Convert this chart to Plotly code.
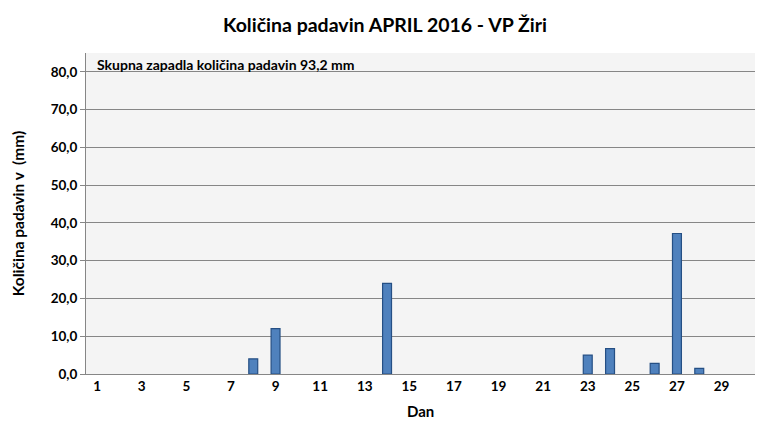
import plotly.graph_objects as go

days = list(range(1, 31))
rain = [0, 0, 0, 0, 0, 0, 0, 4.0, 12.0, 0, 0, 0, 0, 24.0, 0, 0, 0, 0, 0, 0,
        0, 0, 5.0, 6.7, 0, 2.8, 37.2, 1.5, 0, 0]
tick_days = list(range(1, 30, 2))
y_ticks = [0, 10, 20, 30, 40, 50, 60, 70, 80]
y_labels = [f"{v:.1f}".replace(".", ",") for v in y_ticks]

title = "Količina padavin APRIL 2016 - VP Žiri"
note = "Skupna zapadla količina padavin 93,2 mm"
x_title = "Dan"
y_title = "Količina padavin v  (mm)"

font = "Lato, 'Open Sans', sans-serif"

fig = go.Figure()
fig.add_trace(go.Bar(
    x=days, y=[v if v > 0 else None for v in rain],
    marker=dict(color="#4f81bd", line=dict(color="#254f84", width=1.2)),
    width=0.4,
))

fig.update_layout(
    width=770, height=439,
    margin=dict(l=78, r=23, t=45, b=73),
    paper_bgcolor="white",
    plot_bgcolor="#f4f4f4",
    showlegend=False,
    font=dict(family=font, color="black"),
    title=dict(text=f"<b>{title}</b>", x=0.4896, xanchor="center", yref="container",
               y=0.96, yanchor="middle",
               font=dict(size=19.5, family=font, color="black")),
)

fig.update_xaxes(
    range=[0.5, 30.5], automargin=False,
    tickmode="array", tickvals=tick_days, ticktext=[f"<b>{d}</b>" for d in tick_days],
    tickfont=dict(size=13.5),
    showgrid=False, zeroline=False,
    showline=True, linecolor="#868686", linewidth=1,
    ticks="", ticklen=0,
)
fig.update_yaxes(
    range=[0, 85], automargin=False,
    tickmode="array", tickvals=y_ticks, ticktext=[f"<b>{t}</b>" for t in y_labels],
    tickfont=dict(size=13.5),
    showgrid=True, gridcolor="#868686", gridwidth=1,
    zeroline=False,
    showline=True, linecolor="#868686", linewidth=1,
    ticks="outside", ticklen=5, tickcolor="#868686",
)

fig.add_annotation(
    text=f"<b>{note}</b>", xref="paper", yref="paper", x=0.0135, y=0.963,
    xanchor="left", yanchor="middle", showarrow=False, font=dict(size=14, color="black"),
)
fig.add_annotation(
    text=f"<b>{x_title}</b>", xref="paper", yref="paper", x=0.5, y=-0.115,
    xanchor="center", yanchor="middle", showarrow=False,
    font=dict(size=15, color="black"),
)
fig.add_annotation(
    text=f"<b>{y_title}</b>", xref="paper", yref="paper", x=-0.102, y=0.5,
    xanchor="center", yanchor="middle", showarrow=False, textangle=-90,
    font=dict(size=15.5, color="black"),
)

fig.write_html("out.html")
